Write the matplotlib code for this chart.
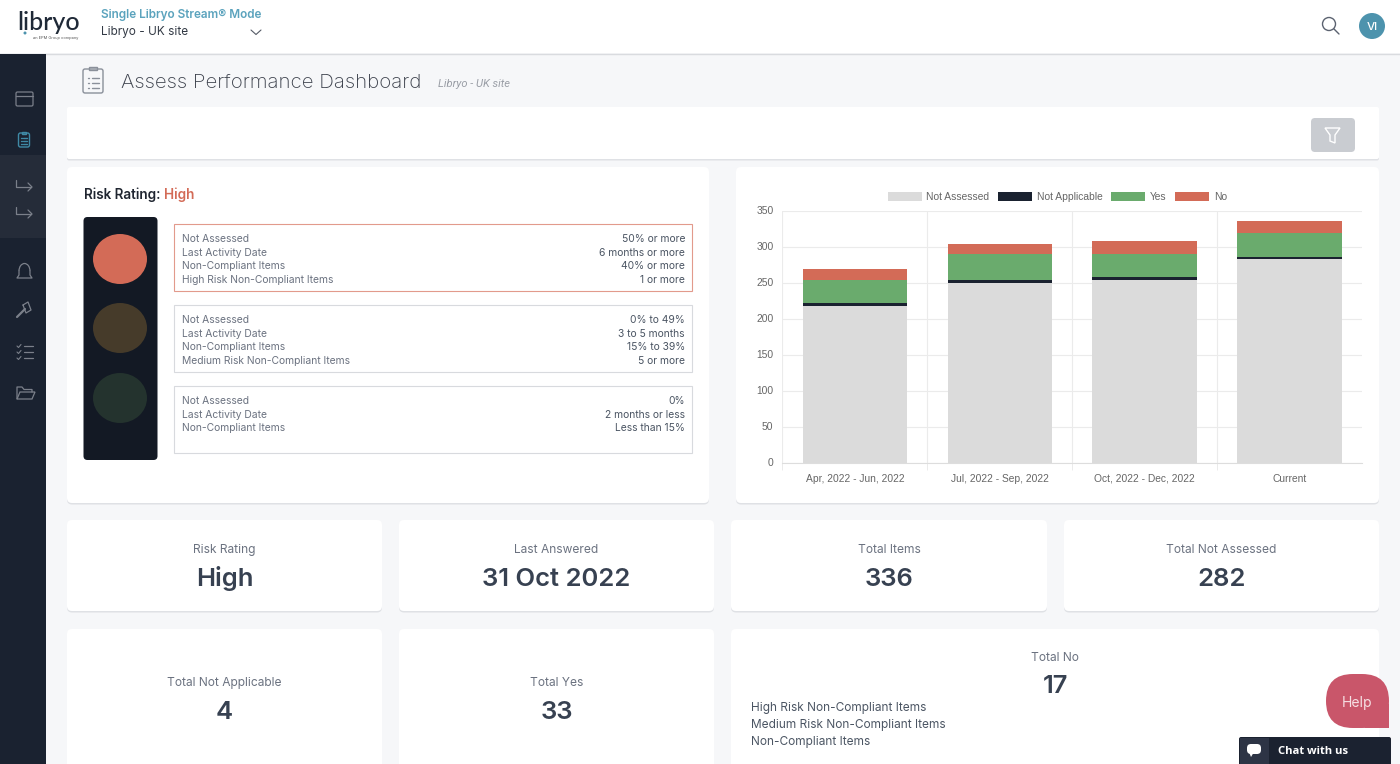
import numpy as np
import matplotlib
matplotlib.use('Agg')
import matplotlib.pyplot as plt
from matplotlib.patches import FancyBboxPatch, Rectangle, Ellipse, Circle, Polygon, Arc

W, H = 1400, 764
PX = 0.72  # css px -> pt at dpi 100

# chart data
quarters = ['Apr, 2022 - Jun, 2022', 'Jul, 2022 - Sep, 2022', 'Oct, 2022 - Dec, 2022', 'Current']
not_assessed = [217, 249, 253, 282]
not_applicable = [4, 4, 4, 4]
yes_vals = [33, 36, 33, 33]
no_vals = [15, 14, 17, 17]
series_names = ['Not Assessed', 'Not Applicable', 'Yes', 'No']
series_colors = ['#dbdbdb', '#1a2230', '#6aab6d', '#d36b57']
y_ticks = [0, 50, 100, 150, 200, 250, 300, 350]

# risk boxes
high_left = ['Not Assessed', 'Last Activity Date', 'Non-Compliant Items', 'High Risk Non-Compliant Items']
high_right = ['50% or more', '6 months or more', '40% or more', '1 or more']
med_left = ['Not Assessed', 'Last Activity Date', 'Non-Compliant Items', 'Medium Risk Non-Compliant Items']
med_right = ['0% to 49%', '3 to 5 months', '15% to 39%', '5 or more']
low_left = ['Not Assessed', 'Last Activity Date', 'Non-Compliant Items']
low_right = ['0%', '2 months or less', 'Less than 15%']

# stat cards
row1_labels = ['Risk Rating', 'Last Answered', 'Total Items', 'Total Not Assessed']
row1_values = ['High', '31 Oct 2022', '336', '282']
row2_labels = ['Total Not Applicable', 'Total Yes']
row2_values = ['4', '33']
no_breakdown = ['High Risk Non-Compliant Items', 'Medium Risk Non-Compliant Items', 'Non-Compliant Items']

fig = plt.figure(figsize=(14, 7.64), dpi=100, facecolor='#f6f7f9')
ui = fig.add_axes([0, 0, 1, 1])
ui.set_xlim(0, W)
ui.set_ylim(H, 0)
ui.axis('off')


def txt(x, y, s, size=12, color='#4b5563', ha='left', weight='normal', family='Inter', style='normal', zorder=6):
    # baseline so rows stay evenly spaced whatever letters they hold
    return ui.text(x, y + 1 + size * 0.36, s, fontsize=size * PX, color=color, ha=ha, va='baseline', fontweight=weight,
                   family=family, fontstyle=style, zorder=zorder)


def card(x0, y0, x1, y1, r=5, shadow=True):
    if shadow:
        ui.add_patch(FancyBboxPatch((x0, y0 + 1.5), x1 - x0, y1 - y0, boxstyle='round,pad=0,rounding_size=%d' % r,
                                    fc='#dfe1e5', ec='none', zorder=1))
    ui.add_patch(FancyBboxPatch((x0, y0), x1 - x0, y1 - y0, boxstyle='round,pad=0,rounding_size=%d' % r,
                                fc='white', ec='none', zorder=2))


def line(xs, ys, color='#6b7280', lw=1.0, zorder=6):
    ui.plot(xs, ys, color=color, lw=lw, solid_capstyle='round', solid_joinstyle='round', zorder=zorder)


def clipboard(cx, cy, w, h, color, lw):
    ui.add_patch(FancyBboxPatch((cx - w / 2, cy - h / 2), w, h, boxstyle='round,pad=0,rounding_size=2',
                                fc='none', ec=color, lw=lw, zorder=6))
    ui.add_patch(Rectangle((cx - w * 0.2, cy - h / 2 - h * 0.1), w * 0.4, h * 0.16, fc='none', ec=color, lw=lw, zorder=6))
    for k in [-0.12, 0.1, 0.3]:
        line([cx - w * 0.27, cx - w * 0.2], [cy + k * h] * 2, color, lw)
        line([cx - w * 0.05, cx + w * 0.28], [cy + k * h] * 2, color, lw)


# header and sidebar
ui.add_patch(Rectangle((0, 0), W, 53, fc='white', ec='none', zorder=3))
ui.plot([0, W], [53.5, 53.5], color='#d9dbdf', lw=1, zorder=3)
ui.add_patch(Rectangle((0, 54), 46, H - 54, fc='#1a2230', ec='none', zorder=3))
ui.add_patch(Rectangle((0, 155), 46, 83, fc='#252c39', ec='none', zorder=4))

txt(17, 20.5, 'libryo', 25, '#1f2937', weight='medium', family='Lato')
ui.add_patch(Circle((25, 33), 1.5, fc='#4d93ad', ec='none', zorder=6))
txt(78, 36.5, 'an EPM Group company', 4, '#555555', ha='right')
txt(101, 13, 'Single Libryo Stream® Mode', 11.8, '#5ba3bd', weight='semibold')
txt(101, 30, 'Libryo - UK site', 11.8, '#333a45')
line([251, 256, 261], [30, 34.5, 30], '#555b66', 0.8)

ui.add_patch(Circle((1329, 24), 6.5, fc='none', ec='#5b6270', lw=1.0, zorder=6))
line([1334, 1339], [29, 34], '#5b6270', 1.0)
ui.add_patch(Circle((1372, 26), 13, fc='#4d93ad', ec='none', zorder=6))
txt(1372, 25, 'VI', 11.5, 'white', ha='center', weight='medium')

# sidebar icons
c = '#7b808a'
ui.add_patch(FancyBboxPatch((16, 92), 17, 14, boxstyle='round,pad=0,rounding_size=1.5', fc='none', ec=c, lw=0.9, zorder=6))
line([16, 33], [95.5, 95.5], c, 0.9)
clipboard(24, 140, 11, 14, '#3f8aa6', 1.0)
for yy in [185, 212]:
    line([16, 16, 31], [yy - 5, yy + 2, yy + 2], c, 0.9)
    line([28, 32, 28], [yy - 2, yy + 2, yy + 6], c, 0.9)
ui.add_patch(Arc((24.5, 271), 11, 15, theta1=180, theta2=360, ec=c, lw=0.9, zorder=6))
line([19, 19, 17, 32, 30, 30], [271, 275, 278, 278, 275, 271], c, 0.9)
line([17, 25], [317, 309], c, 1.6)
line([23, 28, 31, 26, 23], [305, 302, 310, 313, 305], c, 0.9)
for yy in [346, 352, 358]:
    line([17, 18.5, 21], [yy, yy + 1.5, yy - 1.5], c, 0.8)
    line([24, 33], [yy, yy], c, 0.9)
line([17, 17, 22, 24, 32, 32], [399, 387, 387, 389.5, 389.5, 392], c, 0.9)
ui.add_patch(Polygon([(20, 392), (35, 392), (32, 399), (17, 399)], closed=True, fc='none', ec=c, lw=0.9, zorder=6))

# page title
clipboard(93, 81, 20, 24, '#8a909a', 1.0)
txt(121, 79.5, 'Assess Performance Dashboard', 20.4, '#3b404b', weight='light')
txt(438, 82, 'Libryo - UK site', 11.1, '#9a9ea6', family='Roboto', style='italic')

# filter bar
card(67, 107, 1379, 159, r=2)
ui.add_patch(FancyBboxPatch((1311, 118), 44, 34, boxstyle='round,pad=0,rounding_size=4', fc='#c9ccd1', ec='none', zorder=5))
ui.add_patch(Polygon([(1325, 128), (1340, 128), (1335, 135), (1335, 143), (1330, 141), (1330, 135)], closed=True,
                     fc='none', ec='white', lw=1, zorder=6))

# main cards
card(67, 167, 709, 503)
card(736, 167, 1379, 503)

txt(83.5, 193, 'Risk Rating: ', 13.5, '#1f2530', weight='semibold')
txt(164, 193, 'High', 13.5, '#d36b57', weight='semibold')

# traffic light
ui.add_patch(FancyBboxPatch((83.5, 217), 74, 243, boxstyle='round,pad=0,rounding_size=4', fc='#131924', ec='none', zorder=5))
for cy, col in zip([259, 328, 398], ['#d36b57', '#463b2a', '#24332e']):
    ui.add_patch(Ellipse((120, cy), 54, 50, fc=col, ec='none', zorder=6))

# risk boxes
boxes = [(224, high_left, high_right, '#e29a8c'), (305, med_left, med_right, '#d8dade'), (386, low_left, low_right, '#d8dade')]
for y0, lefts, rights, edge in boxes:
    ui.add_patch(Rectangle((174, y0), 518, 67, fc='white', ec=edge, lw=0.8, zorder=5))
    for i in range(len(lefts)):
        yy = y0 + 13.5 + i * 13.45
        txt(182, yy, lefts[i], 10.3, '#6b7280')
        txt(685, yy, rights[i], 10.3, '#4b5563', ha='right')

# stat cards row 1
row1_x = [(67, 382), (399, 714), (731, 1047), (1064, 1379)]
for (x0, x1), lab, val in zip(row1_x, row1_labels, row1_values):
    card(x0, 520, x1, 611)
    txt((x0 + x1) / 2, 548, lab, 12, '#6b7280', ha='center')
    txt((x0 + x1) / 2, 576, val, 25.6, '#374151', ha='center', weight='semibold')

# stat cards row 2
row2_x = [(67, 382), (399, 714)]
for (x0, x1), lab, val in zip(row2_x, row2_labels, row2_values):
    card(x0, 629, x1, 790)
    txt((x0 + x1) / 2, 681, lab, 12, '#6b7280', ha='center')
    txt((x0 + x1) / 2, 709, val, 25.6, '#374151', ha='center', weight='semibold')
card(731, 629, 1379, 790)
txt(1055, 656, 'Total No', 12, '#6b7280', ha='center')
txt(1055, 683, '17', 25.6, '#374151', ha='center', weight='semibold')
for yy, s in zip([706, 723, 740], no_breakdown):
    txt(751, yy, s, 11.85, '#4b5563')

# help and chat widgets
ui.add_patch(FancyBboxPatch((1326, 674), 63, 54, boxstyle='round,pad=0,rounding_size=27', fc='#c9566a', ec='none', zorder=7))
ui.add_patch(Rectangle((1365, 704), 24, 24, fc='#c9566a', ec='none', zorder=7))
txt(1357, 701, 'Help', 14, '#f6dfe3', ha='center', zorder=8)
ui.add_patch(FancyBboxPatch((1239, 737), 152, 30, boxstyle='round,pad=0,rounding_size=2', fc='#1b2230', ec='none', zorder=7))
ui.add_patch(Rectangle((1240, 738), 29, 26, fc='#2d3445', ec='none', zorder=8))
ui.add_patch(FancyBboxPatch((1247, 744), 14, 10, boxstyle='round,pad=0,rounding_size=4', fc='white', ec='none', zorder=9))
ui.add_patch(Polygon([(1249, 752), (1254, 752), (1251, 757)], closed=True, fc='white', ec='none', zorder=9))
txt(1278, 748.5, 'Chat with us', 11.3, 'white', weight='bold', family='Open Sans', zorder=9)

# stacked bar chart
ax = fig.add_axes([782.4 / W, 1 - 462.5 / H, (1362 - 782.4) / W, (462.5 - 210.5) / H])
ax.patch.set_alpha(0)
x = np.arange(len(quarters))
bottom = np.zeros(len(quarters))
for vals, name, col in zip([not_assessed, not_applicable, yes_vals, no_vals], series_names, series_colors):
    ax.bar(x, vals, 0.72, bottom=bottom, color=col, label=name, zorder=3)
    bottom = bottom + np.array(vals)

ax.set_xlim(-0.5, 3.5)
ax.set_ylim(0, 350)
ax.set_yticks(y_ticks)
ax.set_xticks(x)
ax.set_xticklabels(quarters)
ax.set_xticks([-0.5, 0.5, 1.5, 2.5], minor=True)
ax.tick_params(axis='x', which='major', length=0, pad=13.8, labelsize=10.3 * PX, labelcolor='#666666')
ax.tick_params(axis='x', which='minor', length=5, width=0.7, color='#ebebeb')
ax.tick_params(axis='y', length=0, pad=6.5, labelsize=10.3 * PX, labelcolor='#666666')
for lab in ax.get_xticklabels():
    lab.set_family('Liberation Sans')
    lab.set_va('baseline')
for lab in ax.get_yticklabels():
    lab.set_family('Liberation Sans')
ax.grid(axis='y', color='#ebebeb', lw=0.8, zorder=0)
ax.grid(axis='x', which='minor', color='#ebebeb', lw=0.8, zorder=0)
ax.set_axisbelow(True)
for sp in ['top', 'right', 'left']:
    ax.spines[sp].set_visible(False)
ax.spines['bottom'].set_color('#dddddd')
ax.spines['bottom'].set_linewidth(0.8)

ax.legend(loc='center', bbox_to_anchor=(1057.5 / W, 1 - 197 / H), bbox_transform=fig.transFigure, ncol=4, frameon=False,
          prop={'family': 'Liberation Sans', 'size': 10.2 * PX}, labelcolor='#666666', handlelength=3.3,
          handleheight=0.95, handletextpad=0.48, columnspacing=0.86, borderpad=0)

fig.savefig('out.png', dpi=100, facecolor=fig.get_facecolor())
